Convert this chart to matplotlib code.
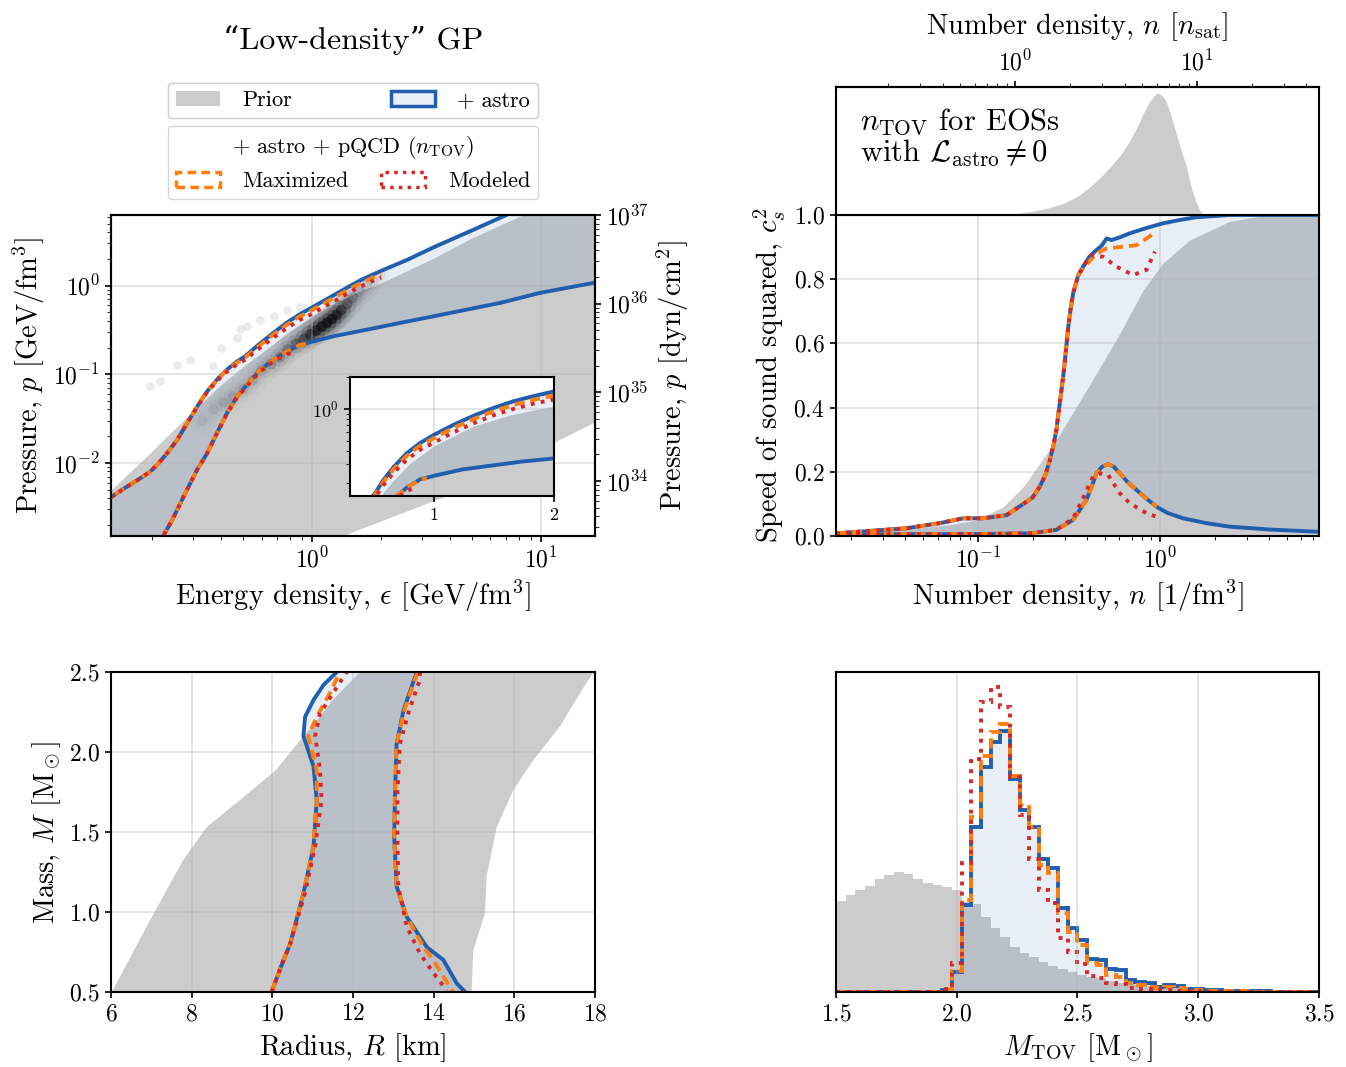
import numpy as np
import matplotlib
matplotlib.use("Agg")
import matplotlib.pyplot as plt
from matplotlib.patches import Patch
from matplotlib.ticker import NullFormatter, MultipleLocator

plt.rcParams['font.family'] = ['cmr10', 'DejaVu Serif']
plt.rcParams['mathtext.fontset'] = 'cm'
plt.rcParams['axes.formatter.use_mathtext'] = True
plt.rcParams['axes.linewidth'] = 1.5
plt.rcParams['xtick.labelsize'] = 17
plt.rcParams['ytick.labelsize'] = 17
plt.rcParams['axes.labelsize'] = 20.5
plt.rcParams['xtick.major.size'] = 4.5
plt.rcParams['ytick.major.size'] = 4.5
plt.rcParams['xtick.minor.size'] = 2.8
plt.rcParams['ytick.minor.size'] = 2.8
plt.rcParams['xtick.major.width'] = 1.2
plt.rcParams['ytick.major.width'] = 1.2

BLUE = '#215fae'
ORANGE = '#ff7f0e'
RED = '#d62728'
GRAY = '0.8'
LW = 2.8
DASH = (0, (2.6, 1.5))
DOT = (0, (1.0, 1.6))

# ---------------- pressure vs energy density ----------------
prior_eps_hi = [0.12, 0.1337, 0.196, 0.26, 0.325, 0.4, 0.5, 0.59, 0.66, 0.8, 1.0, 1.33, 1.66,
                2.0, 3.39, 5.0, 8.5, 20]
prior_p_hi = [0.0038, 0.005, 0.0127, 0.026, 0.045, 0.075, 0.12, 0.165, 0.205, 0.3, 0.44, 0.68, 0.88,
              1.05, 2.0, 3.4, 6.3, 30]
prior_eps_lo = [0.12, 1.2, 1.37, 4.14, 16.9, 20]
prior_p_lo = [0.0001, 0.0012, 0.0015, 0.0045, 0.028, 0.034]

astro_eps_hi = [0.12, 0.1337, 0.155, 0.177, 0.196, 0.213, 0.232, 0.257, 0.284, 0.314, 0.347,
                0.383, 0.424, 0.47, 0.51, 0.578, 0.661, 0.772, 0.883, 1.0, 1.161, 1.328,
                1.494, 1.661, 1.828, 1.994, 2.6, 3.39, 5.0, 7.1, 20]
astro_p_hi = [0.0036, 0.0042, 0.0054, 0.0067, 0.0080, 0.0099, 0.0129, 0.0182, 0.0281, 0.0433, 0.064,
              0.0868, 0.113, 0.14, 0.16, 0.212, 0.28, 0.38, 0.475, 0.569, 0.706, 0.86,
              1.02, 1.18, 1.32, 1.46, 1.95, 2.7, 4.2, 6.3, 30]
astro_eps_lo = [0.12, 0.2, 0.2244, 0.244, 0.265, 0.288, 0.314, 0.347, 0.383, 0.424, 0.469,
                0.519, 0.593, 0.678, 0.775, 0.886, 1.013, 1.239, 1.733, 2.42, 3.39, 4.73,
                6.62, 9.9, 16.9, 20]
astro_p_lo = [0.0005, 0.001, 0.00154, 0.00226, 0.0035, 0.0054, 0.0084, 0.0128, 0.0217, 0.0364, 0.056,
              0.0763, 0.1125, 0.146, 0.181, 0.216, 0.235, 0.268, 0.318, 0.379, 0.45, 0.535,
              0.637, 0.827, 1.07, 1.12]

max_eps_hi = [0.12, 0.1337, 0.155, 0.177, 0.196, 0.213, 0.232, 0.257, 0.284, 0.314, 0.347,
              0.383, 0.424, 0.47, 0.51, 0.578, 0.661, 0.772, 0.883, 1.0, 1.161, 1.328,
              1.494, 1.661, 1.828, 2.0]
max_p_hi = [0.0036, 0.0042, 0.0054, 0.0067, 0.0080, 0.0099, 0.0129, 0.0182, 0.0281, 0.0433, 0.064,
            0.086, 0.111, 0.136, 0.155, 0.203, 0.268, 0.36, 0.448, 0.53, 0.66, 0.80,
            0.95, 1.09, 1.22, 1.34]
mod_eps_hi = max_eps_hi
mod_p_hi = [0.0036, 0.0042, 0.0054, 0.0067, 0.0080, 0.0099, 0.0129, 0.0182, 0.0281, 0.0428, 0.063,
            0.084, 0.107, 0.13, 0.146, 0.19, 0.247, 0.33, 0.41, 0.48, 0.6, 0.73,
            0.87, 1.0, 1.12, 1.23]
max_eps_lo = [0.2, 0.2244, 0.244, 0.265, 0.288, 0.314, 0.347, 0.383, 0.424, 0.469,
              0.519, 0.593, 0.678, 0.775, 0.886, 0.94]
max_p_lo = [0.001, 0.00154, 0.00226, 0.0035, 0.0054, 0.0084, 0.0128, 0.0217, 0.0364, 0.056,
            0.0763, 0.1125, 0.146, 0.181, 0.214, 0.222]
mod_eps_lo = [0.2, 0.2244, 0.244, 0.265, 0.288, 0.314, 0.347, 0.383, 0.424, 0.469,
              0.519, 0.593, 0.678, 0.775, 0.84]
mod_p_lo = [0.001, 0.00154, 0.00226, 0.0035, 0.0054, 0.0084, 0.0128, 0.0215, 0.036, 0.055,
            0.074, 0.108, 0.14, 0.168, 0.18]

# TOV points of the EOS sample: ridge of the cloud with its relative darkness
cloud_eps = [0.33, 0.37, 0.41, 0.45, 0.5, 0.55, 0.6, 0.66, 0.72, 0.78, 0.85, 0.92, 0.98,
             1.04, 1.1, 1.16, 1.22, 1.28, 1.34, 1.42, 1.5, 1.6, 1.72, 1.85, 1.98]
cloud_p = [0.03, 0.04, 0.048, 0.056, 0.068, 0.085, 0.11, 0.13, 0.155, 0.19, 0.22, 0.25, 0.28,
           0.31, 0.345, 0.38, 0.42, 0.47, 0.53, 0.62, 0.72, 0.85, 0.98, 1.12, 1.3]
cloud_w = [0.1, 0.12, 0.15, 0.18, 0.2, 0.22, 0.25, 0.3, 0.35, 0.4, 0.5, 0.6, 0.75,
           0.9, 1.0, 1.0, 0.95, 0.85, 0.7, 0.5, 0.35, 0.25, 0.18, 0.12, 0.08]
out_eps = [0.196, 0.217, 0.257, 0.293, 0.37, 0.47, 0.485, 0.52, 0.59, 0.68, 0.775, 0.886, 0.4]
out_p = [0.073, 0.083, 0.128, 0.146, 0.123, 0.256, 0.32, 0.35, 0.41, 0.45, 0.535, 0.58, 0.2]

# ---------------- speed of sound ----------------
prior_n = [0.0166, 0.04, 0.07, 0.098, 0.138, 0.178, 0.219, 0.27, 0.349, 0.449, 0.603,
           0.81, 1.04, 1.46, 2.42, 3.7, 7.5]
prior_cs_hi = [0.006, 0.02, 0.035, 0.05, 0.091, 0.154, 0.226, 0.30, 0.403, 0.507, 0.631,
               0.766, 0.85, 0.922, 0.98, 0.998, 1.0]

astro_n_hi = [0.0166, 0.0406, 0.0618, 0.083, 0.107, 0.144, 0.178, 0.2, 0.219, 0.235, 0.249,
              0.262, 0.27, 0.283, 0.295, 0.305, 0.314, 0.324, 0.334, 0.355, 0.379, 0.41,
              0.449, 0.48, 0.51, 0.543, 0.6, 0.684, 0.85, 1.04, 1.3, 1.59, 2.4, 7.5]
astro_cs_hi = [0.008, 0.024, 0.040, 0.055, 0.055, 0.065, 0.100, 0.12, 0.154, 0.19, 0.237,
               0.29, 0.33, 0.42, 0.50, 0.58, 0.652, 0.71, 0.756, 0.81, 0.839, 0.87,
               0.891, 0.905, 0.927, 0.922, 0.93, 0.943, 0.96, 0.974, 0.985, 0.993, 1.0, 1.0]
astro_n_lo = [0.0166, 0.1, 0.193, 0.27, 0.334, 0.395, 0.42, 0.449, 0.48, 0.52, 0.56, 0.603,
              0.66, 0.745, 0.85, 0.96, 1.1, 1.34, 1.8, 2.42, 4.0, 7.5]
astro_cs_lo = [0.005, 0.006, 0.008, 0.019, 0.05, 0.112, 0.15, 0.195, 0.215, 0.224, 0.215, 0.195,
               0.17, 0.143, 0.115, 0.091, 0.072, 0.055, 0.04, 0.029, 0.02, 0.013]

max_n_hi = astro_n_hi[:21] + [0.449, 0.51, 0.60, 0.745, 0.96]
max_cs_hi = astro_cs_hi[:20] + [0.835, 0.88, 0.896, 0.90, 0.906, 0.948]
mod_n_hi = astro_n_hi[:21] + [0.42, 0.488, 0.578, 0.714, 0.845, 0.94]
mod_cs_hi = astro_cs_hi[:20] + [0.84, 0.875, 0.87, 0.839, 0.813, 0.829, 0.886]
max_n_lo = astro_n_lo[:16]
max_cs_lo = astro_cs_lo[:16]
mod_n_lo = [0.0166, 0.1, 0.193, 0.27, 0.334, 0.38, 0.43, 0.47, 0.52, 0.603, 0.684, 0.845, 0.96]
mod_cs_lo = [0.005, 0.006, 0.008, 0.019, 0.055, 0.12, 0.185, 0.195, 0.19, 0.133, 0.102, 0.071, 0.06]

# n_TOV distribution (prior, arbitrary units)
ntov_n = [0.127, 0.16, 0.193, 0.24, 0.295, 0.35, 0.413, 0.48, 0.554, 0.62, 0.684, 0.75, 0.81,
          0.87, 0.92, 0.96, 0.98, 1.01, 1.05, 1.09, 1.15, 1.23, 1.31, 1.40, 1.46, 1.52, 1.59,
          1.66, 1.73, 1.80]
ntov_h = [0.0, 0.012, 0.027, 0.055, 0.096, 0.15, 0.23, 0.32, 0.42, 0.51, 0.61, 0.72, 0.83,
          0.92, 0.97, 0.995, 1.0, 0.99, 0.965, 0.92, 0.82, 0.67, 0.53, 0.40, 0.28, 0.18, 0.10,
          0.04, 0.012, 0.0]
N_SAT = 0.16

# ---------------- mass-radius ----------------
prior_R_left = [5.9, 6.02, 6.97, 7.79, 8.37, 9.2, 10.1, 10.77, 11.0, 11.5, 12.17, 12.3]
prior_M_left = [0.45, 0.5, 0.95, 1.325, 1.53, 1.7, 1.89, 2.1, 2.16, 2.325, 2.5, 2.55]
prior_R_right = [18.1, 17.96, 17.63, 17.13, 16.47, 15.97, 15.56, 15.31, 15.27, 14.98, 14.94, 14.94]
prior_M_right = [2.55, 2.5, 2.37, 2.16, 1.95, 1.76, 1.53, 1.22, 0.99, 0.76, 0.51, 0.45]

astro_R_left = [9.98, 10.2, 10.44, 10.77, 11.02, 11.1, 11.02, 10.77, 10.81, 11.02, 11.27, 11.6]
astro_M_left = [0.5, 0.65, 0.8, 1.117, 1.41, 1.70, 1.91, 2.1, 2.22, 2.325, 2.42, 2.5]
astro_R_right = [13.58, 13.25, 13.08, 13.04, 13.02, 13.08, 13.33, 13.83, 14.24, 14.57, 14.78]
astro_M_right = [2.5, 2.26, 2.05, 1.74, 1.47, 1.16, 0.97, 0.78, 0.70, 0.554, 0.5]

max_R_left = [9.98, 10.2, 10.44, 10.77, 11.02, 11.1, 11.1, 10.89, 11.1, 11.43, 11.67]
max_M_left = [0.5, 0.65, 0.8, 1.117, 1.41, 1.70, 1.88, 2.1, 2.22, 2.37, 2.5]
max_R_right = [13.6, 13.27, 13.08, 13.04, 13.02, 13.08, 13.33, 13.75, 13.99, 14.4, 14.49]
max_M_right = [2.5, 2.26, 2.05, 1.74, 1.47, 1.16, 0.97, 0.78, 0.70, 0.53, 0.5]
mod_R_left = [9.98, 10.2, 10.44, 10.81, 11.06, 11.22, 11.18, 11.06, 11.18, 11.51, 11.84]
mod_M_left = [0.5, 0.65, 0.8, 1.12, 1.41, 1.70, 1.89, 2.1, 2.24, 2.37, 2.5]
mod_R_right = [13.66, 13.64, 13.39, 13.16, 13.1, 13.1, 13.12, 13.33, 13.66, 13.99, 14.32]
mod_M_right = [2.5, 2.44, 2.26, 2.05, 1.74, 1.47, 1.16, 0.91, 0.74, 0.62, 0.51]

# ---------------- M_TOV histograms (bins of 0.04 Msun from 1.5 to 3.5) ----------------
mtov_edges = np.round(np.arange(1.5, 3.5001, 0.04), 2)
prior_counts = [273, 290, 305, 317, 338, 350, 359, 353, 338, 327,
                320, 315, 307, 270, 265, 225, 192, 165, 135, 116,
                106, 91, 78, 68, 61, 51, 46, 41, 34, 28,
                26, 21, 19, 16, 14, 13, 11, 10, 9, 8,
                7, 6, 5, 5, 4, 3, 3, 2, 2, 1]
astro_counts = [0] * 11 + [5, 60, 260, 495, 675, 750, 783, 640, 545, 495,
                           398, 371, 251, 191, 156, 98, 96, 68, 66, 36,
                           31, 28, 16, 20, 18, 10, 8, 6, 5, 4,
                           3, 3, 2, 2, 1, 1, 1, 0, 0]
max_counts = [0] * 11 + [5, 62, 275, 525, 707, 780, 805, 647, 560, 495,
                         381, 356, 236, 181, 141, 86, 81, 51, 46, 26,
                         21, 16, 11, 16, 11, 8, 5, 4, 3, 3,
                         2, 2, 1, 1, 1, 0, 0, 0, 0]
mod_counts = [0] * 11 + [8, 88, 387, 700, 870, 915, 855, 645, 530, 400,
                         306, 268, 161, 121, 83, 48, 41, 28, 24, 11,
                         8, 8, 5, 5, 3, 2, 2, 1, 1, 0,
                         0, 0, 0, 0, 0, 0, 0, 0, 0]

GEV_FM3_TO_DYN = 1.602e36


def band(ax, xh, yh, xl, yl, **kw):
    ax.fill(np.r_[xh, xl[::-1]], np.r_[yh, yl[::-1]], lw=0, **kw)


def grid(ax, axis='both'):
    ax.grid(True, which='major', axis=axis, color='0.7', alpha=0.4, lw=1.2)


fig = plt.figure(figsize=(13.46, 10.67), dpi=100)

# ---- p(eps) ----
ax = fig.add_axes([0.0825, 0.4977, 0.3596, 0.3008])
axi = fig.add_axes([0.2600, 0.5351, 0.1516, 0.1115])
w = np.array(cloud_w)
ax.scatter(out_eps, out_p, s=40, color='k', alpha=0.08, lw=0, zorder=1.2)
for size, a0 in ((420, 0.08), (180, 0.2), (60, 0.55)):
    ax.scatter(cloud_eps, cloud_p, s=size, color='k', alpha=np.clip(a0 * w, 0, 1), lw=0, zorder=1.2)
for a in (ax, axi):
    band(a, prior_eps_hi, prior_p_hi, prior_eps_lo, prior_p_lo, color=GRAY)
    band(a, astro_eps_hi, astro_p_hi, astro_eps_lo, astro_p_lo, color=BLUE, alpha=0.1)
    a.plot(astro_eps_hi, astro_p_hi, color=BLUE, lw=LW)
    a.plot(astro_eps_lo, astro_p_lo, color=BLUE, lw=LW)
    a.plot(max_eps_hi, max_p_hi, color=ORANGE, lw=LW, ls=DASH)
    a.plot(max_eps_lo, max_p_lo, color=ORANGE, lw=LW, ls=DASH)
    a.plot(mod_eps_hi, mod_p_hi, color=RED, lw=LW, ls=DOT)
    a.plot(mod_eps_lo, mod_p_lo, color=RED, lw=LW, ls=DOT)
    a.set_yscale('log')
    grid(a)

ax.set_xscale('log')
ax.set_xlim(0.132, 17.2)
ax.set_ylim(0.0015, 1e37 / GEV_FM3_TO_DYN)
ax.set_xlabel(r'Energy density, $\epsilon$ [GeV/fm$^3$]')
ax.set_ylabel(r'Pressure, $p$ [GeV/fm$^3$]')
ax2 = ax.twinx()
ax2.set_yscale('log')
ax2.set_ylim(0.0015 * GEV_FM3_TO_DYN, 1e37)
ax2.set_ylabel(r'Pressure, $p$ [dyn/cm$^2$]')

axi.set_xlim(0.3, 2.0)
axi.set_ylim(0.15, 2.0)
axi.set_xticks([1, 2])
axi.set_yticks([1.0])
axi.yaxis.set_minor_formatter(NullFormatter())
axi.tick_params(labelsize=13)

fig.text(0.2623, 0.9625, '\u201cLow-density\u201d GP', ha='center', va='center', fontsize=23)

leg1 = fig.legend(handles=[Patch(facecolor=GRAY, edgecolor='none', label='Prior'),
                           Patch(facecolor='#e8eef6', edgecolor=BLUE, lw=2.5, label='+ astro')],
                  loc='lower left', bbox_to_anchor=(0.1248, 0.8894, 0.2749, 0.0337),
                  mode='expand', ncol=2, borderaxespad=0, fontsize=16,
                  handlelength=2.0, handletextpad=1.0, borderpad=0.35)
leg2 = fig.legend(handles=[Patch(facecolor='none', edgecolor=ORANGE, lw=2.5, ls=(0, (2.5, 1.5)),
                                 label='Maximized'),
                           Patch(facecolor='none', edgecolor=RED, lw=2.5, ls=(0, (1, 1.5)),
                                 label='Modeled')],
                  loc='lower left', bbox_to_anchor=(0.1248, 0.8135, 0.2749, 0.0647),
                  mode='expand', ncol=2, borderaxespad=0, fontsize=16,
                  title=r'+ astro + pQCD ($n_{\rm TOV}$)', title_fontsize=16,
                  handlelength=2.0, handletextpad=1.0, borderpad=0.35)
fig.add_artist(leg1)

# ---- c_s^2(n) ----
axc = fig.add_axes([0.6211, 0.4977, 0.3588, 0.3008])
axc.fill_between(prior_n, 0, prior_cs_hi, color=GRAY, lw=0)
band(axc, astro_n_hi, astro_cs_hi, astro_n_lo, astro_cs_lo, color=BLUE, alpha=0.1)
axc.plot(astro_n_hi, astro_cs_hi, color=BLUE, lw=LW)
axc.plot(astro_n_lo, astro_cs_lo, color=BLUE, lw=LW)
axc.plot(max_n_hi, max_cs_hi, color=ORANGE, lw=LW, ls=DASH)
axc.plot(max_n_lo, max_cs_lo, color=ORANGE, lw=LW, ls=DASH)
axc.plot(mod_n_hi, mod_cs_hi, color=RED, lw=LW, ls=DOT)
axc.plot(mod_n_lo, mod_cs_lo, color=RED, lw=LW, ls=DOT)
axc.set_xscale('log')
axc.set_xlim(0.0166, 7.5)
axc.set_ylim(0, 1)
axc.yaxis.set_major_locator(MultipleLocator(0.2))
axc.set_xlabel(r'Number density, $n$ [1/fm$^3$]')
axc.set_ylabel(r'Speed of sound squared, $c_s^2$')
grid(axc)

axn = fig.add_axes([0.6211, 0.7985, 0.3588, 0.12], sharex=axc)
axn.fill_between(ntov_n, 0, ntov_h, color=GRAY, lw=0)
axn.set_ylim(0, 1.05)
axn.tick_params(axis='x', which='both', bottom=False, labelbottom=False)
axn.tick_params(axis='y', which='both', left=False, labelleft=False)
sec = axn.secondary_xaxis('top', functions=(lambda x: x / N_SAT, lambda x: x * N_SAT))
sec.set_xticks([1, 10])
sec.xaxis.set_minor_formatter(NullFormatter())
sec.set_xlabel(r'Number density, $n$ [$n_{\rm sat}$]', labelpad=12)
axn.text(0.05, 0.85, '$n_{\\rm TOV}$ for EOSs\nwith $\\mathcal{L}_{\\rm astro} \\neq 0$',
         transform=axn.transAxes, ha='left', va='top', fontsize=22, linespacing=1.05)

# ---- M(R) ----
axm = fig.add_axes([0.0825, 0.0703, 0.3596, 0.2999])
axm.fill(np.r_[prior_R_left, prior_R_right], np.r_[prior_M_left, prior_M_right], color=GRAY, lw=0)
axm.fill(np.r_[astro_R_left, astro_R_right], np.r_[astro_M_left, astro_M_right],
         color=BLUE, alpha=0.1, lw=0)
axm.plot(astro_R_left, astro_M_left, color=BLUE, lw=LW)
axm.plot(astro_R_right, astro_M_right, color=BLUE, lw=LW)
axm.plot(max_R_left, max_M_left, color=ORANGE, lw=LW, ls=DASH)
axm.plot(max_R_right, max_M_right, color=ORANGE, lw=LW, ls=DASH)
axm.plot(mod_R_left, mod_M_left, color=RED, lw=LW, ls=DOT)
axm.plot(mod_R_right, mod_M_right, color=RED, lw=LW, ls=DOT)
axm.set_xlim(6, 18)
axm.set_ylim(0.5, 2.5)
axm.xaxis.set_major_locator(MultipleLocator(2))
axm.yaxis.set_major_locator(MultipleLocator(0.5))
axm.set_xlabel(r'Radius, $R$ [km]')
axm.set_ylabel(r'Mass, $M$ [M$_\odot$]')
grid(axm)

# ---- M_TOV ----
axh = fig.add_axes([0.6211, 0.0703, 0.3588, 0.2999])
axh.stairs(prior_counts, mtov_edges, fill=True, color=GRAY, lw=0)
axh.stairs(astro_counts, mtov_edges, fill=True, color=BLUE, alpha=0.1, lw=0)
axh.stairs(astro_counts, mtov_edges, color=BLUE, lw=LW)
axh.stairs(max_counts, mtov_edges, color=ORANGE, lw=LW, ls=DASH)
axh.stairs(mod_counts, mtov_edges, color=RED, lw=LW, ls=DOT)
axh.set_xlim(1.5, 3.5)
axh.set_ylim(0, 960)
axh.set_yticks([])
axh.xaxis.set_major_locator(MultipleLocator(0.5))
axh.set_xlabel(r'$M_{\rm TOV}$ [M$_\odot$]')
grid(axh, axis='x')

fig.savefig('out.png', dpi=100)
